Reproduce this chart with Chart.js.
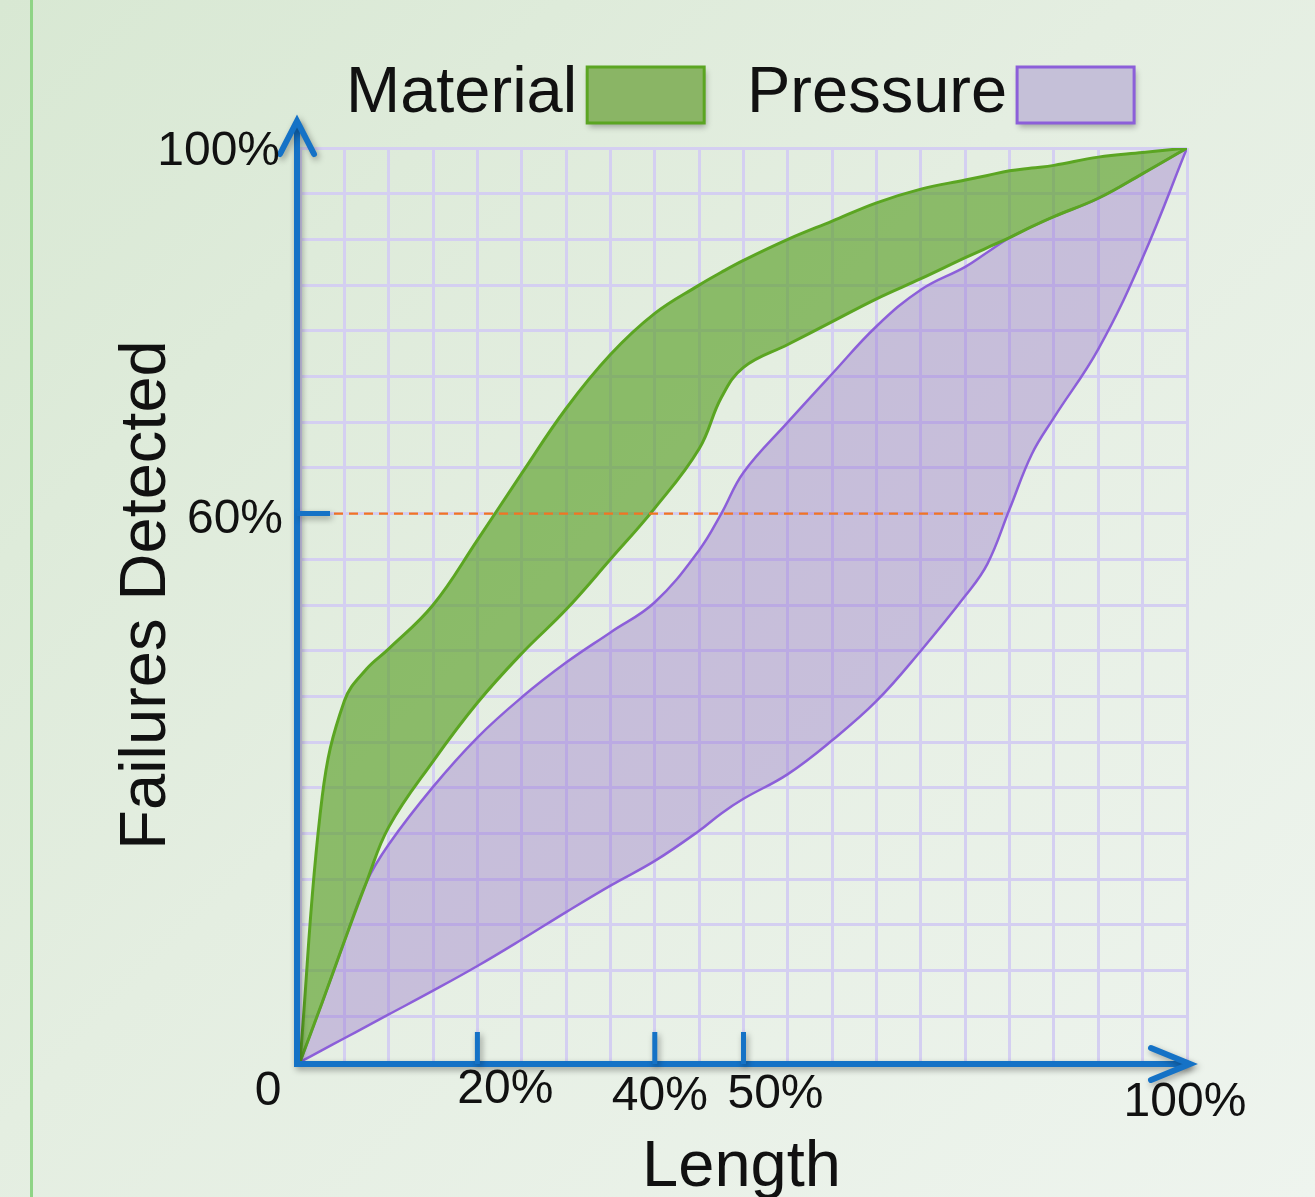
<!DOCTYPE html>
<html><head><meta charset="utf-8">
<script src="https://cdn.jsdelivr.net/npm/chart.js@4.4.1/dist/chart.umd.min.js"></script>
<style>
html,body{margin:0;padding:0;}
body{width:1315px;height:1197px;overflow:hidden;position:relative;
  background:linear-gradient(135deg,#d8e8d3 0%,#e4eee1 45%,#eef4ee 100%);}
#leftline{position:absolute;left:30px;top:0;width:3px;height:1197px;background:#8fd486;}
#wrap{position:absolute;left:0;top:0;width:1315px;height:1197px;}
</style></head><body>
<div id="leftline"></div>
<div id="wrap"><canvas id="c" width="1315" height="1197"></canvas></div>
<script>
// ---- data (percent) ----
const lengthPct     = [0, 2.5, 5, 7.5, 10, 15, 20, 25, 30, 35, 40, 45, 47.5, 50, 55, 60, 65, 70, 75, 77.5, 80, 82.5, 85, 90, 95, 100];
const materialUpper = [0, 29, 39.5, 43, 45.2, 50, 57.1, 64.4, 71.5, 77.4, 81.9, 85, 86.4, 87.7, 90, 92, 94, 95.5, 96.5, 97, 97.5, 97.8, 98.1, 99, 99.5, 100];
const materialLower = [0, 6.5, 13.2, 19.7, 25.7, 32.9, 39.3, 44.7, 49.5, 55, 60.6, 67.1, 72.7, 76, 78.5, 81, 83.5, 85.7, 88, 89.1, 90.2, 91.4, 92.5, 94.5, 97.2, 100];
const pressureUpper = [0, 6.5, 13.2, 19.7, 23.8, 30.1, 35.5, 39.9, 43.7, 47.0, 50.3, 56, 60, 64.5, 70, 75.3, 80.5, 84.5, 87, 88.6, 90.2, 91.4, 92.5, 94.5, 97.2, 100];
const pressureLower = [0, 1.3, 2.6, 3.9, 5.2, 7.8, 10.5, 13.4, 16.4, 19.3, 22, 25.3, 27.2, 28.8, 31.5, 35.2, 39.5, 45, 51, 54.5, 60.5, 66.5, 70.5, 78, 88, 100];

const seriesNames = ['Material', 'Pressure'];
const xAxisTitle = 'Length';
const yAxisTitle = 'Failures Detected';
const xLabelValues = [0, 20, 40, 50, 100];
const xLabelTexts  = ['0', '20%', '40%', '50%', '100%'];
const xTickMarks   = [20, 40, 50];
const yLabelValues = [100, 60];
const yLabelTexts  = ['100%', '60%'];
const yTickMarks   = [60];
const thresholdLevel = 60;
const thresholdEndLength = 79.6;

// ---- styles ----
const GREEN_LINE = '#5ba522', GREEN_FILL = 'rgba(90,160,40,0.65)', GREEN_BOX = '#8ab565';
const PURPLE_LINE = '#8c5fd9', PURPLE_FILL = 'rgba(140,100,200,0.35)', PURPLE_BOX = '#c5c0d8';
const AXIS_BLUE = '#1572c6';
const xLabelOffsets = [[-32, 30], [28, 28], [5, 35], [32, 33], [-2, 41]];
const yLabelOffsets = [[-20, 4], [-17, 6]];
const FONT = '"Liberation Sans", Arial, sans-serif';

function toXY(ys){ return lengthPct.map((x,i)=>({x:x, y:ys[i]})); }

const decor = {
  id: 'decor',
  afterDatasetsDraw(chart){
    const {ctx, chartArea:a, scales:{x, y}} = chart;
    ctx.save();
    // dashed threshold line
    const yy = y.getPixelForValue(thresholdLevel);
    ctx.strokeStyle = '#f27522';
    ctx.lineWidth = 2.2;
    ctx.setLineDash([9, 6]);
    ctx.beginPath();
    ctx.moveTo(a.left + 34, yy);
    ctx.lineTo(x.getPixelForValue(thresholdEndLength), yy);
    ctx.stroke();
    ctx.setLineDash([]);

    // axes with arrows
    ctx.shadowColor = 'rgba(0,0,0,0.35)';
    ctx.shadowBlur = 6; ctx.shadowOffsetX = 2; ctx.shadowOffsetY = 3;
    ctx.strokeStyle = AXIS_BLUE;
    ctx.lineWidth = 6;
    ctx.lineCap = 'butt';
    const ax = a.left - 3, ay = a.bottom + 2;
    ctx.beginPath();
    ctx.moveTo(ax, ay + 3); ctx.lineTo(ax, a.top - 26);
    ctx.moveTo(ax - 3, ay); ctx.lineTo(a.right + 2, ay);
    ctx.stroke();
    ctx.lineCap = 'round';
    ctx.lineJoin = 'miter';
    ctx.beginPath();
    ctx.moveTo(ax - 17, a.top + 6); ctx.lineTo(ax, a.top - 27); ctx.lineTo(ax + 17, a.top + 6);
    ctx.moveTo(a.right - 36, ay - 16); ctx.lineTo(a.right + 3, ay); ctx.lineTo(a.right - 36, ay + 16);
    ctx.stroke();
    // tick marks
    ctx.lineCap = 'butt';
    ctx.lineWidth = 5;
    ctx.beginPath();
    xTickMarks.forEach(v => { const px = x.getPixelForValue(v); ctx.moveTo(px, ay); ctx.lineTo(px, ay - 32); });
    yTickMarks.forEach(v => { const py = y.getPixelForValue(v); ctx.moveTo(ax, py); ctx.lineTo(ax + 33, py); });
    ctx.stroke();
    ctx.restore();

    // labels
    ctx.save();
    ctx.fillStyle = '#111';
    ctx.font = '48px ' + FONT;
    ctx.textAlign = 'center'; ctx.textBaseline = 'middle';
    xLabelValues.forEach((v, i) => {
      ctx.fillText(xLabelTexts[i], x.getPixelForValue(v) + xLabelOffsets[i][0], a.bottom + xLabelOffsets[i][1]);
    });
    ctx.textAlign = 'right';
    yLabelValues.forEach((v, i) => {
      ctx.fillText(yLabelTexts[i], a.left + yLabelOffsets[i][0], y.getPixelForValue(v) + yLabelOffsets[i][1]);
    });
    // axis titles
    ctx.font = '65px ' + FONT;
    ctx.textAlign = 'center'; ctx.textBaseline = 'alphabetic';
    ctx.fillText(xAxisTitle, (a.left + a.right) / 2 - 2, a.bottom + 124);
    ctx.save();
    ctx.translate(165, (a.top + a.bottom) / 2 - 10);
    ctx.rotate(-Math.PI / 2);
    ctx.fillText(yAxisTitle, 0, 0);
    ctx.restore();

    // legend (text followed by box)
    ctx.font = '65px ' + FONT;
    ctx.textAlign = 'left';
    const items = [
      {name: seriesNames[0], x: 346, fill: GREEN_BOX, stroke: GREEN_LINE},
      {name: seriesNames[1], x: 747, fill: PURPLE_BOX, stroke: PURPLE_LINE}
    ];
    items.forEach(it => {
      ctx.fillStyle = '#111';
      ctx.fillText(it.name, it.x, 112);
      const bx = it.x + ctx.measureText(it.name).width + 10;
      ctx.save();
      ctx.shadowColor = 'rgba(0,0,0,0.3)'; ctx.shadowBlur = 6; ctx.shadowOffsetX = 2; ctx.shadowOffsetY = 4;
      ctx.fillStyle = it.fill;
      ctx.fillRect(bx, 67, 117, 56);
      ctx.restore();
      ctx.strokeStyle = it.stroke; ctx.lineWidth = 3;
      ctx.strokeRect(bx, 67, 117, 56);
    });
    ctx.restore();
  }
};

new Chart(document.getElementById('c'), {
  type: 'line',
  data: {
    datasets: [
      {label: seriesNames[0], data: toXY(materialUpper), borderColor: GREEN_LINE, backgroundColor: GREEN_FILL, borderWidth: 3, fill: {target: 1}, order: 1},
      {label: seriesNames[0] + ' (low)', data: toXY(materialLower), borderColor: GREEN_LINE, borderWidth: 3, fill: false, order: 0},
      {label: seriesNames[1], data: toXY(pressureUpper), borderColor: PURPLE_LINE, backgroundColor: PURPLE_FILL, borderWidth: 2.5, fill: {target: 3}, order: 3},
      {label: seriesNames[1] + ' (low)', data: toXY(pressureLower), borderColor: PURPLE_LINE, borderWidth: 2.5, fill: false, order: 2}
    ]
  },
  options: {
    responsive: false, animation: false, devicePixelRatio: 1,
    layout: {padding: {left: 300, right: 128, top: 148, bottom: 135}},
    elements: {point: {radius: 0}, line: {tension: 0.4, capBezierPoints: true}},
    scales: {
      x: {type: 'linear', min: 0, max: 100, ticks: {display: false, stepSize: 5},
          grid: {color: '#d4cff1', lineWidth: 3, drawTicks: false}, border: {display: false}},
      y: {type: 'linear', min: 0, max: 100, ticks: {display: false, stepSize: 5},
          grid: {color: '#d4cff1', lineWidth: 3, drawTicks: false}, border: {display: false}}
    },
    plugins: {legend: {display: false}, tooltip: {enabled: false}}
  },
  plugins: [decor]
});
</script>
</body></html>
